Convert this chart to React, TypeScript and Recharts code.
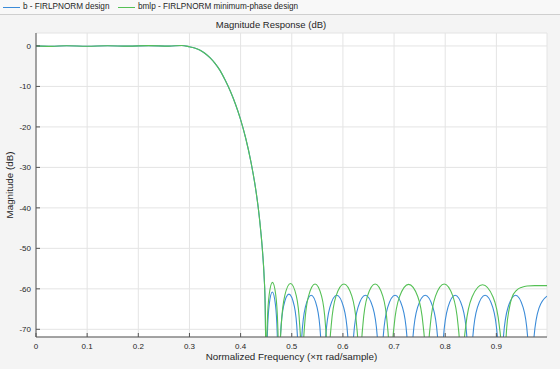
import { LineChart, Line, XAxis, YAxis, CartesianGrid } from "recharts";

// [normalized frequency, dB]
const passband = [
  [0, 0.02], [0.03, -0.1], [0.06, 0.05], [0.1, -0.08], [0.14, 0.06],
  [0.18, -0.05], [0.22, 0.08], [0.26, -0.04], [0.285, 0.12], [0.3, -0.2],
];

const transition = [
  [0.31, -0.5], [0.32, -1.0], [0.33, -1.8], [0.34, -2.9], [0.35, -4.3],
  [0.36, -6.1], [0.37, -8.5], [0.38, -11.2], [0.39, -14.4], [0.4, -18.2],
  [0.41, -22.8], [0.42, -28.5], [0.43, -35.8], [0.435, -40.5], [0.44, -46.5],
  [0.443, -51], [0.446, -57], [0.448, -64], [0.4493, -80], [0.4497, -95],
];

const blueStopband = [
  [0.4524, -71], [0.456, -63.8], [0.462, -60.8], [0.468, -63.8], [0.4716, -71], [0.474, -95],
  [0.478, -71.5], [0.484, -64.3], [0.4945, -61.3], [0.505, -64.3], [0.511, -71.5], [0.515, -95],
  [0.5196, -71.8], [0.5265, -64.6], [0.538, -61.6], [0.5495, -64.6], [0.5564, -71.8], [0.561, -95],
  [0.5664, -71.8], [0.5745, -64.6], [0.588, -61.6], [0.6015, -64.6], [0.6096, -71.8], [0.615, -95],
  [0.6208, -71.8], [0.6295, -64.6], [0.644, -61.6], [0.6585, -64.6], [0.6672, -71.8], [0.673, -95],
  [0.6788, -71.8], [0.6875, -64.6], [0.702, -61.6], [0.7165, -64.6], [0.7252, -71.8], [0.731, -95],
  [0.737, -71.8], [0.746, -64.6], [0.761, -61.6], [0.776, -64.6], [0.785, -71.8], [0.791, -95],
  [0.7967, -71.8], [0.8053, -64.6], [0.8195, -61.6], [0.8338, -64.6], [0.8423, -71.8], [0.848, -95],
  [0.854, -71.8], [0.863, -64.6], [0.878, -61.6], [0.893, -64.6], [0.902, -71.8], [0.908, -95],
  [0.9139, -71.8], [0.9228, -64.6], [0.9375, -61.6], [0.9523, -64.6], [0.9611, -71.8], [0.967, -95],
  [0.9736, -71.9], [0.9835, -64.7], [0.999, -61.8],
];

const greenStopband = [
  [0.4508, -74.5], [0.4521, -68.6], [0.4559, -61.4], [0.4623, -58.4], [0.4686, -61.4], [0.4725, -68.6], [0.4737, -74.5], [0.475, -95],
  [0.4773, -74.8], [0.4795, -68.9], [0.4863, -61.7], [0.4975, -58.7], [0.5088, -61.7], [0.5155, -68.9], [0.5178, -74.8], [0.52, -95],
  [0.5226, -74.9], [0.5251, -69], [0.5328, -61.8], [0.5455, -58.8], [0.5583, -61.8], [0.5659, -69], [0.5685, -74.9], [0.571, -95],
  [0.5741, -74.9], [0.5772, -69], [0.5865, -61.8], [0.602, -58.8], [0.6175, -61.8], [0.6268, -69], [0.6299, -74.9], [0.633, -95],
  [0.636, -74.9], [0.639, -69], [0.648, -61.8], [0.663, -58.8], [0.678, -61.8], [0.687, -69], [0.69, -74.9], [0.693, -95],
  [0.6966, -75], [0.7001, -69.1], [0.7108, -61.9], [0.7285, -58.9], [0.7463, -61.9], [0.7569, -69.1], [0.7605, -75], [0.764, -95],
  [0.7674, -74.9], [0.7708, -69], [0.781, -61.8], [0.798, -58.8], [0.815, -61.8], [0.8252, -69], [0.8286, -74.9], [0.832, -95],
  [0.8361, -75.1], [0.8402, -69.2], [0.8525, -62], [0.873, -59], [0.8935, -62], [0.9058, -69.2], [0.9099, -75.1], [0.914, -95],
  [0.9175, -76], [0.92, -70], [0.925, -65], [0.93, -62.3], [0.94, -60.3], [0.95, -59.6], [0.96, -59.3], [0.975, -59.2], [0.999, -59.2],
];

const xMajorTicks = [0, 0.1, 0.2, 0.3, 0.4, 0.5, 0.6, 0.7, 0.8, 0.9];
const xMinorTicks = [
  0.02, 0.04, 0.06, 0.08, 0.12, 0.14, 0.16, 0.18, 0.22, 0.24, 0.26, 0.28,
  0.32, 0.34, 0.36, 0.38, 0.42, 0.44, 0.46, 0.48, 0.52, 0.54, 0.56, 0.58,
  0.62, 0.64, 0.66, 0.68, 0.72, 0.74, 0.76, 0.78, 0.82, 0.84, 0.86, 0.88,
  0.92, 0.94, 0.96, 0.98,
];
const yMajorTicks = [-70, -60, -50, -40, -30, -20, -10, 0];
const yMinorTicks = [-65, -55, -45, -35, -25, -15, -5];

const X_DOMAIN = [0, 0.999];
const Y_DOMAIN = [-71.9, 3.2];

const BLUE = "#3b8bd8";
const GREEN = "#55c055";
const FONT = '"Liberation Sans", Arial, Helvetica, sans-serif';
const AXIS = "#555555";
const TEXT = "#262626";

const toPoints = (rows: number[][]) => rows.map(([f, db]) => ({ f, db }));
const blueData = toPoints([...passband, ...transition, ...blueStopband]);
const greenData = toPoints([...passband, ...transition, ...greenStopband]);

const blank = () => "";
const tickFont = { fontSize: 8, fill: TEXT, fontFamily: FONT };

export default function App() {
  return (
    <div
      style={{
        position: "fixed",
        left: 0,
        top: 0,
        width: 560,
        height: 369,
        background: "#f4f4f4",
        fontFamily: FONT,
        overflow: "hidden",
      }}
    >
      <div
        style={{
          position: "absolute",
          left: 0,
          top: 0,
          width: 560,
          height: 14,
          background: "#f8f8f8",
          borderBottom: "1px solid #cfcfcf",
          fontSize: 8.2,
          color: TEXT,
        }}
      >
        <div style={{ position: "absolute", left: 3, top: 7, width: 17, height: 1, background: BLUE }} />
        <div style={{ position: "absolute", left: 23, top: 2, lineHeight: "10px" }}>b - FIRLPNORM design</div>
        <div style={{ position: "absolute", left: 118, top: 7, width: 17, height: 1, background: GREEN }} />
        <div style={{ position: "absolute", left: 138, top: 2, lineHeight: "10px" }}>
          bmlp - FIRLPNORM minimum-phase design
        </div>
      </div>
      <div
        style={{
          position: "absolute",
          left: 0,
          top: 19,
          width: 542,
          textAlign: "center",
          fontSize: 9.5,
          lineHeight: "12px",
          color: TEXT,
        }}
      >
        Magnitude Response (dB)
      </div>
      <LineChart width={560} height={369} margin={{ top: 33, right: 13, bottom: 0, left: 0 }}>
        <CartesianGrid fill="#ffffff" stroke="#e4e4e4" />
        {/* minor ticks first so they sit on the box edges */}
        <XAxis xAxisId="bm" type="number" dataKey="f" domain={X_DOMAIN} allowDataOverflow ticks={xMinorTicks}
          height={0} tickSize={-2.5} axisLine={false} tickFormatter={blank} stroke={AXIS} />
        <XAxis xAxisId="tm" orientation="top" type="number" dataKey="f" domain={X_DOMAIN} allowDataOverflow
          ticks={xMinorTicks} height={0} tickSize={-2.5} axisLine={false} tickFormatter={blank} stroke={AXIS} />
        <XAxis xAxisId="tM" orientation="top" type="number" dataKey="f" domain={X_DOMAIN} allowDataOverflow
          ticks={xMajorTicks} height={0} tickSize={-4} tickFormatter={blank} stroke={AXIS} />
        <XAxis
          type="number"
          dataKey="f"
          domain={X_DOMAIN}
          allowDataOverflow
          ticks={xMajorTicks}
          height={32}
          tickSize={-4}
          tickMargin={10}
          stroke={AXIS}
          tick={tickFont}
          label={{
            value: "Normalized Frequency (\u00d7\u03c0 rad/sample)",
            position: "center",
            dy: 4,
            style: { fontSize: 9.8, fill: TEXT, fontFamily: FONT },
          }}
        />
        <YAxis yAxisId="lm" type="number" domain={Y_DOMAIN} allowDataOverflow ticks={yMinorTicks}
          width={0} tickSize={-2.5} axisLine={false} tickFormatter={blank} stroke={AXIS} />
        <YAxis yAxisId="rm" orientation="right" type="number" domain={Y_DOMAIN} allowDataOverflow
          ticks={yMinorTicks} width={0} tickSize={-2.5} axisLine={false} tickFormatter={blank} stroke={AXIS} />
        <YAxis yAxisId="rM" orientation="right" type="number" domain={Y_DOMAIN} allowDataOverflow
          ticks={yMajorTicks} width={0} tickSize={-4} tickFormatter={blank} stroke={AXIS} />
        <YAxis
          type="number"
          domain={Y_DOMAIN}
          allowDataOverflow
          ticks={yMajorTicks}
          width={36}
          tickSize={-4}
          tickMargin={9}
          stroke={AXIS}
          tick={tickFont}
          label={{
            value: "Magnitude (dB)",
            angle: -90,
            position: "center",
            dx: -8,
            style: { fontSize: 9.8, fill: TEXT, fontFamily: FONT },
          }}
        />
        <Line data={blueData} dataKey="db" type="monotone" stroke={BLUE} strokeWidth={1.1} dot={false}
          isAnimationActive={false} />
        <Line data={greenData} dataKey="db" type="monotone" stroke={GREEN} strokeWidth={1.1} dot={false}
          isAnimationActive={false} />
      </LineChart>
    </div>
  );
}
